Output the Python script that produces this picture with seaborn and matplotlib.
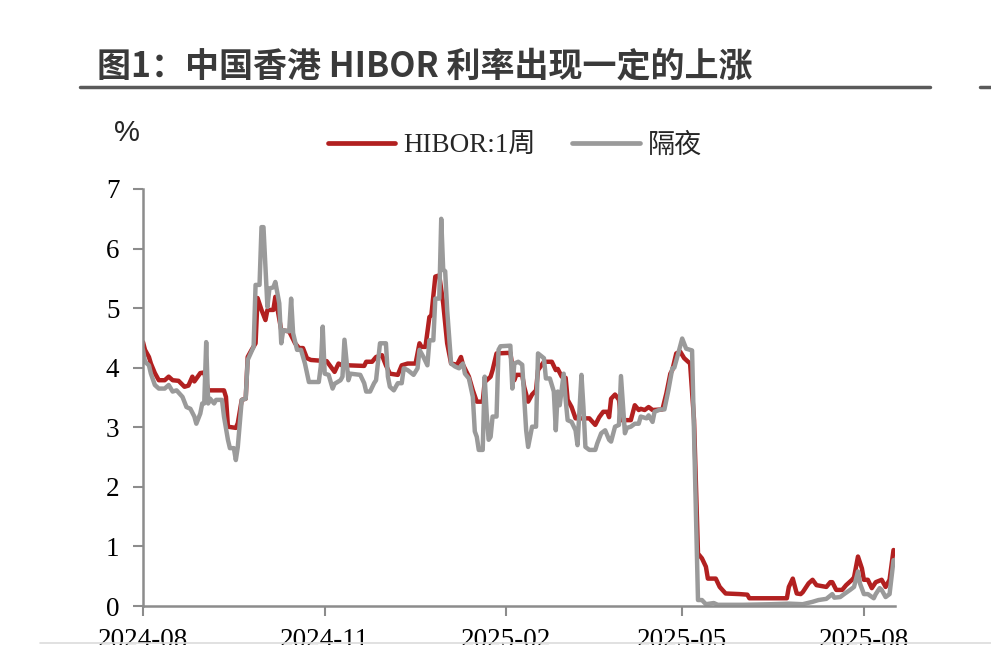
import numpy as np
import pandas as pd
import matplotlib
matplotlib.use("Agg")
import matplotlib.pyplot as plt
import matplotlib.dates as mdates
from matplotlib.lines import Line2D
from matplotlib.font_manager import FontProperties
import seaborn as sns

sns.set_style("ticks")
plt.rcParams['font.family'] = ['Liberation Serif', 'Noto Sans CJK SC']

# ---------------- data ----------------
series_names = ["HIBOR:1周", "隔夜"]

dates_1w = [
    "2024-08-01", "2024-08-02", "2024-08-04", "2024-08-05", "2024-08-07", "2024-08-09", "2024-08-12", "2024-08-14", "2024-08-16", "2024-08-19", "2024-08-22", "2024-08-24", "2024-08-26", "2024-08-27", "2024-08-30",
    "2024-09-01", "2024-09-03", "2024-09-11", "2024-09-12", "2024-09-13", "2024-09-17", "2024-09-18", "2024-09-20", "2024-09-22", "2024-09-23", "2024-09-25", "2024-09-27", "2024-09-28", "2024-09-30",
    "2024-10-02", "2024-10-03", "2024-10-06", "2024-10-07", "2024-10-10", "2024-10-14", "2024-10-17", "2024-10-19", "2024-10-21", "2024-10-23", "2024-10-25",
    "2024-11-02", "2024-11-04", "2024-11-06", "2024-11-08", "2024-11-11", "2024-11-13", "2024-11-21", "2024-11-22", "2024-11-25", "2024-11-27", "2024-11-30",
    "2024-12-02", "2024-12-04", "2024-12-08", "2024-12-10", "2024-12-13", "2024-12-17", "2024-12-19", "2024-12-20", "2024-12-22", "2024-12-24", "2024-12-25", "2024-12-27", "2024-12-29", "2024-12-31",
    "2025-01-02", "2025-01-04", "2025-01-07", "2025-01-09", "2025-01-10", "2025-01-13", "2025-01-15", "2025-01-17", "2025-01-20", "2025-01-21", "2025-01-24", "2025-01-25", "2025-01-27",
    "2025-02-03", "2025-02-05", "2025-02-06", "2025-02-09", "2025-02-10", "2025-02-12", "2025-02-14", "2025-02-16", "2025-02-17", "2025-02-20", "2025-02-24", "2025-02-26", "2025-02-27",
    "2025-03-01", "2025-03-03", "2025-03-04", "2025-03-06", "2025-03-08", "2025-03-15", "2025-03-18", "2025-03-20", "2025-03-22", "2025-03-24", "2025-03-25", "2025-03-26", "2025-03-28", "2025-03-30", "2025-03-31",
    "2025-04-05", "2025-04-07", "2025-04-09", "2025-04-10", "2025-04-12", "2025-04-14", "2025-04-16", "2025-04-21", "2025-04-23", "2025-04-25", "2025-04-26", "2025-04-28", "2025-04-30",
    "2025-05-02", "2025-05-05", "2025-05-07", "2025-05-09", "2025-05-11", "2025-05-13", "2025-05-14", "2025-05-18", "2025-05-20", "2025-05-23", "2025-05-30",
    "2025-06-03", "2025-06-04", "2025-06-23", "2025-06-24", "2025-06-26", "2025-06-28", "2025-06-30",
    "2025-07-01", "2025-07-04", "2025-07-06", "2025-07-08", "2025-07-13", "2025-07-15", "2025-07-16", "2025-07-18", "2025-07-21", "2025-07-23", "2025-07-26", "2025-07-27", "2025-07-29", "2025-07-31",
    "2025-08-01", "2025-08-03", "2025-08-05", "2025-08-07", "2025-08-10", "2025-08-12", "2025-08-14", "2025-08-16",
]
values_1w = [
    4.43, 4.30, 4.18, 4.07, 3.91, 3.79, 3.79, 3.85, 3.79, 3.78, 3.68, 3.70, 3.85, 3.77, 3.91,
    3.92, 3.62, 3.62, 3.51, 3.01, 2.99, 3.07, 3.46, 3.48, 4.18, 4.30, 4.41, 5.17, 4.97,
    4.80, 4.97, 4.97, 5.19, 4.63, 4.61, 4.41, 4.33, 4.33, 4.16, 4.13,
    4.11, 4.02, 3.93, 4.07, 4.02, 4.04, 4.03, 4.10, 4.10, 4.18, 4.21,
    4.04, 3.90, 3.88, 4.04, 4.07, 4.07, 4.41, 4.35, 4.35, 4.85, 4.88, 5.53, 5.55, 5.08,
    4.41, 4.07, 4.05, 4.18, 4.05, 3.85, 3.62, 3.43, 3.43, 3.76, 3.85, 3.96, 4.24,
    4.25, 3.79, 3.88, 3.88, 3.68, 3.43, 3.55, 3.62, 3.96, 4.10, 4.10, 3.96, 3.98,
    3.85, 3.83, 3.46, 3.34, 3.15, 3.15, 3.04, 3.17, 3.26, 3.26, 3.17, 3.48, 3.55, 3.46, 3.12,
    3.12, 3.37, 3.29, 3.31, 3.29, 3.34, 3.29, 3.30, 3.57, 3.90, 3.96, 4.24, 4.27,
    4.16, 4.07, 3.12, 0.88, 0.80, 0.66, 0.46, 0.46, 0.32, 0.21, 0.20,
    0.19, 0.13, 0.13, 0.32, 0.46, 0.21, 0.20,
    0.23, 0.38, 0.44, 0.35, 0.32, 0.40, 0.40, 0.27, 0.27, 0.35, 0.44, 0.48, 0.83, 0.63,
    0.44, 0.44, 0.30, 0.40, 0.44, 0.32, 0.44, 0.94,
]

dates_on = [
    "2024-08-01", "2024-08-02", "2024-08-04", "2024-08-05", "2024-08-07", "2024-08-09", "2024-08-12", "2024-08-14", "2024-08-16", "2024-08-18", "2024-08-21", "2024-08-23", "2024-08-25", "2024-08-27", "2024-08-28", "2024-08-30", "2024-08-31",
    "2024-09-01", "2024-09-02", "2024-09-03", "2024-09-04", "2024-09-06", "2024-09-07", "2024-09-10", "2024-09-11", "2024-09-13", "2024-09-14", "2024-09-16", "2024-09-17", "2024-09-18", "2024-09-20", "2024-09-22", "2024-09-23", "2024-09-26", "2024-09-27", "2024-09-29", "2024-09-30",
    "2024-10-01", "2024-10-03", "2024-10-04", "2024-10-06", "2024-10-07", "2024-10-09", "2024-10-10", "2024-10-11", "2024-10-14", "2024-10-15", "2024-10-16", "2024-10-18", "2024-10-20", "2024-10-22", "2024-10-24", "2024-10-29", "2024-10-30", "2024-10-31",
    "2024-11-01", "2024-11-03", "2024-11-05", "2024-11-06", "2024-11-09", "2024-11-10", "2024-11-11", "2024-11-13", "2024-11-14", "2024-11-19", "2024-11-21", "2024-11-22", "2024-11-24", "2024-11-26", "2024-11-27", "2024-11-29",
    "2024-12-02", "2024-12-03", "2024-12-04", "2024-12-06", "2024-12-08", "2024-12-10", "2024-12-11", "2024-12-13", "2024-12-16", "2024-12-18", "2024-12-19", "2024-12-21", "2024-12-23", "2024-12-24", "2024-12-26", "2024-12-27", "2024-12-29", "2024-12-30", "2024-12-31",
    "2025-01-01", "2025-01-02", "2025-01-04", "2025-01-06", "2025-01-08", "2025-01-10", "2025-01-11", "2025-01-13", "2025-01-15", "2025-01-16", "2025-01-17", "2025-01-18", "2025-01-20", "2025-01-21", "2025-01-22", "2025-01-23", "2025-01-24", "2025-01-25", "2025-01-27", "2025-01-28", "2025-01-29",
    "2025-02-03", "2025-02-04", "2025-02-05", "2025-02-07", "2025-02-09", "2025-02-10", "2025-02-11", "2025-02-12", "2025-02-14", "2025-02-16", "2025-02-17", "2025-02-20", "2025-02-21", "2025-02-23", "2025-02-25", "2025-02-26", "2025-02-27", "2025-02-28",
    "2025-03-02", "2025-03-03", "2025-03-04", "2025-03-06", "2025-03-08", "2025-03-09", "2025-03-11", "2025-03-12", "2025-03-13", "2025-03-15", "2025-03-18", "2025-03-19", "2025-03-21", "2025-03-23", "2025-03-25", "2025-03-26", "2025-03-28", "2025-03-30", "2025-03-31",
    "2025-04-02", "2025-04-03", "2025-04-05", "2025-04-07", "2025-04-09", "2025-04-10", "2025-04-13", "2025-04-14", "2025-04-16", "2025-04-17", "2025-04-20", "2025-04-22", "2025-04-24", "2025-04-26", "2025-04-27", "2025-04-29",
    "2025-05-01", "2025-05-03", "2025-05-06", "2025-05-09", "2025-05-11", "2025-05-13", "2025-05-17", "2025-05-19",
    "2025-06-01", "2025-06-15", "2025-06-24",
    "2025-07-01", "2025-07-06", "2025-07-09", "2025-07-13", "2025-07-16", "2025-07-17", "2025-07-20", "2025-07-22", "2025-07-25", "2025-07-27", "2025-07-29", "2025-07-30",
    "2025-08-01", "2025-08-03", "2025-08-06", "2025-08-07", "2025-08-09", "2025-08-10", "2025-08-12", "2025-08-14", "2025-08-16",
]
values_on = [
    4.30, 4.10, 4.04, 3.90, 3.71, 3.65, 3.65, 3.71, 3.60, 3.62, 3.51, 3.34, 3.31, 3.18, 3.06, 3.23, 3.40,
    3.40, 4.43, 3.40, 3.48, 3.40, 3.46, 3.46, 3.18, 2.79, 2.65, 2.65, 2.45, 2.67, 3.46, 3.48, 4.13, 4.35, 5.39, 5.39, 6.36,
    6.36, 5.02, 5.33, 5.35, 5.44, 5.08, 4.41, 4.63, 4.61, 5.16, 4.58, 4.30, 4.30, 4.07, 3.76, 3.76, 4.02, 4.69,
    3.90, 3.88, 3.65, 3.73, 3.79, 3.85, 4.47, 3.79, 3.90, 3.88, 3.74, 3.60, 3.60, 3.74, 3.79, 4.41,
    4.41, 3.85, 3.68, 3.62, 3.74, 3.74, 3.99, 3.96, 3.88, 3.99, 4.30, 4.18, 4.04, 4.46, 4.46, 5.16, 5.16, 6.50, 5.64,
    5.62, 4.97, 4.07, 4.02, 3.99, 4.07, 3.90, 3.82, 3.51, 2.93, 2.84, 2.62, 2.62, 3.85, 3.23, 2.79, 2.84, 3.18, 3.18, 4.30, 4.36,
    4.37, 3.65, 4.07, 4.10, 4.05, 3.51, 2.95, 2.67, 3.01, 3.01, 4.24, 4.16, 3.82, 3.82, 3.60, 2.95, 3.60, 3.37,
    3.90, 3.46, 3.12, 3.09, 2.95, 2.70, 3.88, 3.34, 2.67, 2.62, 2.62, 2.73, 2.90, 2.95, 2.79, 2.76, 3.01, 3.04, 3.86,
    2.90, 2.99, 3.01, 3.06, 3.06, 3.18, 3.15, 3.20, 3.09, 3.26, 3.30, 3.30, 3.62, 3.99, 4.00, 4.24,
    4.49, 4.32, 4.29, 0.10, 0.10, 0.03, 0.05, 0.02,
    0.02, 0.03, 0.04,
    0.03, 0.07, 0.10, 0.12, 0.20, 0.14, 0.15, 0.20, 0.27, 0.32, 0.58, 0.38,
    0.20, 0.20, 0.13, 0.20, 0.30, 0.27, 0.15, 0.20, 0.77,
]

x_tick_dates = ["2024-08-01", "2024-11-01", "2025-02-01", "2025-05-01", "2025-08-01"]
y_ticks = [0, 1, 2, 3, 4, 5, 6, 7]

title_text = "图1：中国香港 HIBOR 利率出现一定的上涨"
unit_text = "%"

assert len(dates_1w) == len(values_1w), (len(dates_1w), len(values_1w))
assert len(dates_on) == len(values_on), (len(dates_on), len(values_on))

df = pd.concat([
    pd.DataFrame({"date": pd.to_datetime(dates_1w), "value": values_1w, "series": series_names[0]}),
    pd.DataFrame({"date": pd.to_datetime(dates_on), "value": values_on, "series": series_names[1]}),
], ignore_index=True)

# ---------------- styling ----------------
RED = "#B22020"
GRAY = "#9A9A9A"
AXIS = "#8C8C8C"
W, H = 991, 645

fig = plt.figure(figsize=(W / 100, H / 100), dpi=100)
ax = fig.add_axes([143 / W, 1 - 606 / H, (895 - 143) / W, (606 - 189) / H])

sns.lineplot(data=df, x="date", y="value", hue="series", hue_order=series_names,
             palette=[RED, GRAY], linewidth=3.2, estimator=None, sort=True,
             legend=False, ax=ax)

ax.set_xlim(pd.Timestamp("2024-08-01"), pd.Timestamp("2025-08-16 18:00"))
ax.set_ylim(0, 7)
ax.set_yticks(y_ticks)
ax.set_xticks(pd.to_datetime(x_tick_dates))
ax.xaxis.set_major_formatter(mdates.DateFormatter("%Y-%m"))
ax.set_xlabel("")
ax.set_ylabel("")

for s in ["top", "right"]:
    ax.spines[s].set_visible(False)
for s in ["left", "bottom"]:
    ax.spines[s].set_color(AXIS)
    ax.spines[s].set_linewidth(1.8)

tick_font = FontProperties(family=["Liberation Serif", "Noto Sans CJK SC"], size=19.5)
ax.tick_params(axis="both", direction="out", length=7, width=1.5, color=AXIS,
               labelcolor="black")
ax.tick_params(axis="y", pad=10)
ax.tick_params(axis="x", pad=9)
for lab in ax.get_xticklabels() + ax.get_yticklabels():
    lab.set_fontproperties(tick_font)

# legend
leg_font = FontProperties(family=["Liberation Serif", "Noto Sans CJK SC"], size=19.5)
handles = [Line2D([], [], color=RED, lw=3.4), Line2D([], [], color=GRAY, lw=3.4)]
fig.legend(handles, series_names, loc="center", bbox_to_anchor=(515 / W, 1 - 146 / H),
           ncol=2, frameon=False, prop=leg_font, handlelength=2.5,
           handletextpad=0.3, columnspacing=1.35)

# unit label
fig.text(127 / W, 1 - 133 / H, unit_text, ha="center", va="center",
         fontproperties=FontProperties(family=["Liberation Sans"], size=21))

# title and rule
fig.text(97 / W, 1 - 66 / H, title_text, ha="left", va="center", color="#3a3a3a",
         fontproperties=FontProperties(family=["Noto Sans CJK SC"], weight="bold", size=24.5))
fig.add_artist(Line2D([80 / W, 930 / W], [1 - 87 / H, 1 - 87 / H], color="#5a5a5a", lw=2.5))
fig.add_artist(Line2D([980 / W, 1.0], [1 - 87 / H, 1 - 87 / H], color="#5a5a5a", lw=2.5))
fig.add_artist(Line2D([40 / W, 1.0], [1 - 643 / H, 1 - 643 / H], color="#dcdcdc", lw=1.2))

fig.savefig("out.png", dpi=100)
